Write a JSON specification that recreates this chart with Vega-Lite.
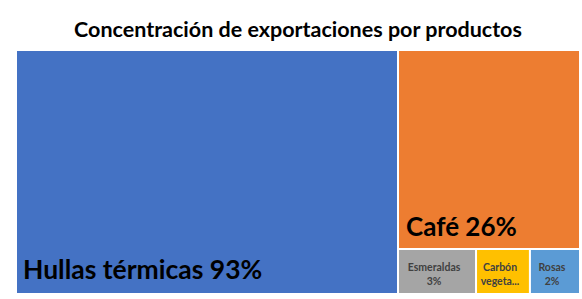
{
  "$schema": "https://vega.github.io/schema/vega-lite/v6.json",
  "padding": {"left": 15, "top": 19, "right": 2, "bottom": 6},
  "background": "white",
  "title": {"text": "Concentración de exportaciones por productos", "font": "Lato", "fontSize": 21.5, "fontWeight": "bold", "color": "#000000", "anchor": "middle", "offset": 8},
  "data": {"values": [
    {"producto": "Hullas térmicas", "etiqueta": "Hullas térmicas 93%", "valor": 920, "bloque": "principal"},
    {"producto": "Café", "etiqueta": "Café 26%", "valor": 355, "bloque": "cafe"},
    {"producto": "Esmeraldas", "etiqueta": "Esmeraldas\n3%", "valor": 34.3, "bloque": "otros"},
    {"producto": "Carbón vegetal", "etiqueta": "Carbón\nvegeta...", "valor": 23.7, "bloque": "otros"},
    {"producto": "Rosas", "etiqueta": "Rosas\n2%", "valor": 22, "bloque": "otros"}
  ]},
  "transform": [{"stack": "valor", "groupby": ["bloque"], "offset": "normalize", "as": ["x0", "x1"]}],
  "spacing": 0,
  "bounds": "flush",
  "hconcat": [
    {
      "width": 382, "height": 244,
      "transform": [{"filter": "datum.bloque === 'principal'"}],
      "layer": [
        {"mark": {"type": "rect", "stroke": "white", "strokeWidth": 2},
         "encoding": {
           "x": {"field": "x0", "type": "quantitative", "axis": null, "scale": {"domain": [0, 1]}},
           "x2": {"field": "x1"},
           "color": {"field": "producto", "type": "nominal", "legend": null,
             "scale": {"domain": ["Hullas térmicas", "Café", "Esmeraldas", "Carbón vegetal", "Rosas"], "range": ["#4472C4", "#ED7D31", "#A5A5A5", "#FFC000", "#5B9BD5"]}}
         }},
        {"mark": {"type": "text", "font": "Lato", "fontSize": 26.5, "fontWeight": "bold", "align": "left", "baseline": "alphabetic", "dx": 7, "dy": -15, "color": "#000000"},
         "encoding": {
           "x": {"field": "x0", "type": "quantitative"},
           "y": {"datum": 0, "type": "quantitative", "scale": {"domain": [0, 1]}, "axis": null},
           "text": {"field": "etiqueta"}
         }}
      ]
    },
    {
      "spacing": 0,
      "bounds": "flush",
      "vconcat": [
        {
          "width": 182, "height": 199,
          "transform": [{"filter": "datum.bloque === 'cafe'"}],
          "layer": [
            {"mark": {"type": "rect", "stroke": "white", "strokeWidth": 2},
             "encoding": {
               "x": {"field": "x0", "type": "quantitative", "axis": null, "scale": {"domain": [0, 1]}},
               "x2": {"field": "x1"},
               "color": {"field": "producto", "type": "nominal", "legend": null}
             }},
            {"mark": {"type": "text", "font": "Lato", "fontSize": 26, "fontWeight": "bold", "align": "left", "baseline": "alphabetic", "dx": 8, "dy": -13, "color": "#000000"},
             "encoding": {
               "x": {"field": "x0", "type": "quantitative"},
               "y": {"datum": 0, "type": "quantitative", "scale": {"domain": [0, 1]}, "axis": null},
               "text": {"field": "etiqueta"}
             }}
          ]
        },
        {
          "width": 182, "height": 45,
          "transform": [{"filter": "datum.bloque === 'otros'"}],
          "layer": [
            {"mark": {"type": "rect", "stroke": "white", "strokeWidth": 2},
             "encoding": {
               "x": {"field": "x0", "type": "quantitative", "axis": null, "scale": {"domain": [0, 1]}},
               "x2": {"field": "x1"},
               "color": {"field": "producto", "type": "nominal", "legend": null}
             }},
            {"transform": [
               {"fold": ["valor", "valor"], "as": ["parte", "mitad"]},
               {"stack": "mitad", "groupby": ["bloque"], "offset": "normalize", "as": ["m0", "m1"]},
               {"aggregate": [{"op": "min", "field": "m1", "as": "centro"}], "groupby": ["producto", "etiqueta"]}
             ],
             "mark": {"type": "text", "font": "Lato", "fontSize": 10.5, "fontWeight": "bold", "align": "center", "baseline": "middle", "lineBreak": "\n", "lineHeight": 14, "dx": -3, "dy": -4, "color": "#404040"},
             "encoding": {
               "x": {"field": "centro", "type": "quantitative"},
               "y": {"datum": 0.5, "type": "quantitative", "scale": {"domain": [0, 1]}, "axis": null},
               "text": {"field": "etiqueta"}
             }}
          ]
        }
      ]
    }
  ],
  "config": {"view": {"stroke": null}}
}
